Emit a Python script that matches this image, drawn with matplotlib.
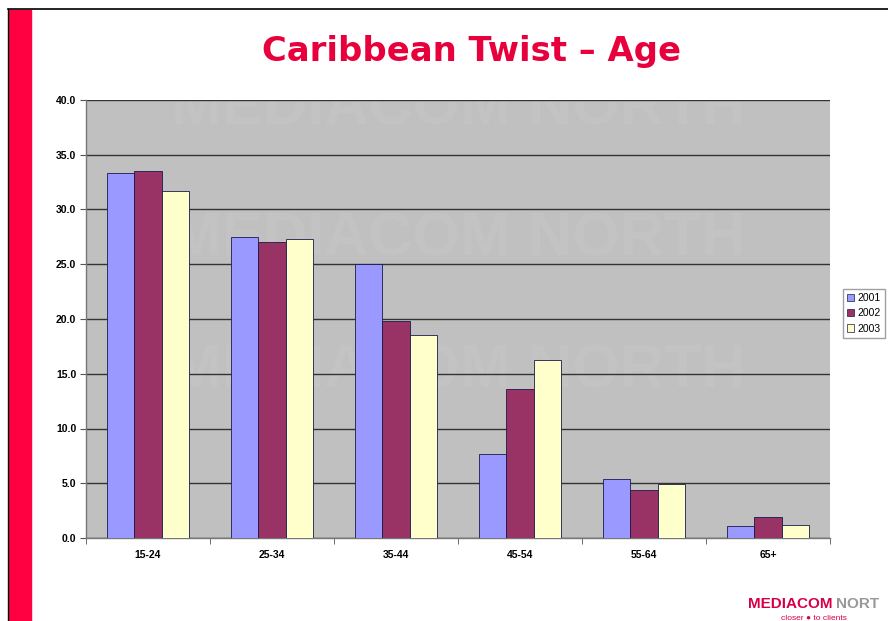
import matplotlib.pyplot as plt
import numpy as np
from matplotlib.patches import Rectangle

plt.rcParams['font.family'] = ['Liberation Sans', 'DejaVu Sans']

# data
age_groups = ['15-24', '25-34', '35-44', '45-54', '55-64', '65+']
years = ['2001', '2002', '2003']
vals_2001 = [33.3, 27.5, 25.0, 7.7, 5.4, 1.1]
vals_2002 = [33.5, 27.0, 19.8, 13.6, 4.4, 1.9]
vals_2003 = [31.7, 27.3, 18.5, 16.3, 4.9, 1.2]
bar_colors = ['#9999FF', '#993366', '#FFFFCC']

fig = plt.figure(figsize=(8.88, 6.21), dpi=100)
fig.patch.set_facecolor('white')

# slide decoration: red stripe on the left, black frame line on top
fig.add_artist(Rectangle((9 / 888, 0), 22 / 888, 1 - 10 / 621,
                         transform=fig.transFigure, color='#FF0040', zorder=0))
fig.add_artist(plt.Line2D([8 / 888, 1], [1 - 9 / 621, 1 - 9 / 621],
                          transform=fig.transFigure, color='black', lw=1.2))
fig.add_artist(plt.Line2D([8 / 888, 8 / 888], [0, 1 - 9 / 621],
                          transform=fig.transFigure, color='black', lw=1.0))

ax = fig.add_axes([86 / 888, 1 - 538 / 621, 744 / 888, 438 / 621])
ax.set_facecolor('#C0C0C0')

x = np.arange(len(age_groups))
w = 0.22
for i, (vals, c) in enumerate(zip([vals_2001, vals_2002, vals_2003], bar_colors)):
    ax.bar(x + (i - 1) * w, vals, width=w, color=c, edgecolor='#1a1a4a',
           linewidth=0.6, label=years[i], zorder=3)

ax.set_xlim(-0.5, len(age_groups) - 0.5)
ax.set_ylim(0, 40)
ax.set_yticks(np.arange(0, 41, 5))
ax.set_yticklabels(['%.1f' % v for v in np.arange(0, 41, 5)],
                   fontsize=7.5, fontweight='bold')
ax.yaxis.grid(True, color='#333333', linewidth=1.0, zorder=1)
ax.set_axisbelow(True)

ax.set_xticks(x)
ax.set_xticklabels(age_groups, fontsize=7.5, fontweight='bold')
ax.tick_params(axis='x', which='major', length=0, pad=9)
ax.set_xticks(np.arange(-0.5, len(age_groups), 1), minor=True)
ax.tick_params(axis='x', which='minor', length=4, color='#555555')
ax.tick_params(axis='y', length=4, color='#555555', pad=3)

for s in ['top', 'right']:
    ax.spines[s].set_visible(False)
for s in ['left', 'bottom']:
    ax.spines[s].set_color('#777777')
    ax.spines[s].set_linewidth(1.0)

# faint watermark behind the bars
for yy in [0.98, 0.68, 0.38]:
    ax.text(0.5, yy, 'MEDIACOM NORTH', transform=ax.transAxes, ha='center',
            va='center', fontsize=44, fontweight='bold', color='white',
            alpha=0.05, zorder=0.5)

leg = ax.legend(loc='upper left', bbox_to_anchor=(843 / 888, 1 - 289 / 621),
                bbox_transform=fig.transFigure, fontsize=7.5, frameon=True,
                fancybox=False, edgecolor='#888888', handlelength=0.7,
                handleheight=0.7, handletextpad=0.3, borderpad=0.4,
                labelspacing=0.5, borderaxespad=0)
for h in leg.legend_handles:
    h.set_linewidth(0.5)

fig.text(471 / 888, 1 - 52 / 621, 'Caribbean Twist \u2013 Age', ha='center',
         va='center', fontsize=24.4, fontweight='bold', color='#E8003D',
         family='DejaVu Sans')

# logo in the corner
fig.text(748 / 888, 1 - 604 / 621, 'MEDIACOM', ha='left', va='center',
         fontsize=11, fontweight='bold', color='#D6004A')
fig.text(836 / 888, 1 - 604 / 621, 'NORT', ha='left', va='center',
         fontsize=11, fontweight='bold', color='#999999')
fig.text(781 / 888, 1 - 618 / 621, 'closer \u25cf to clients', ha='left',
         va='center', fontsize=6, color='#D6004A')

fig.savefig('out.png', dpi=100)
